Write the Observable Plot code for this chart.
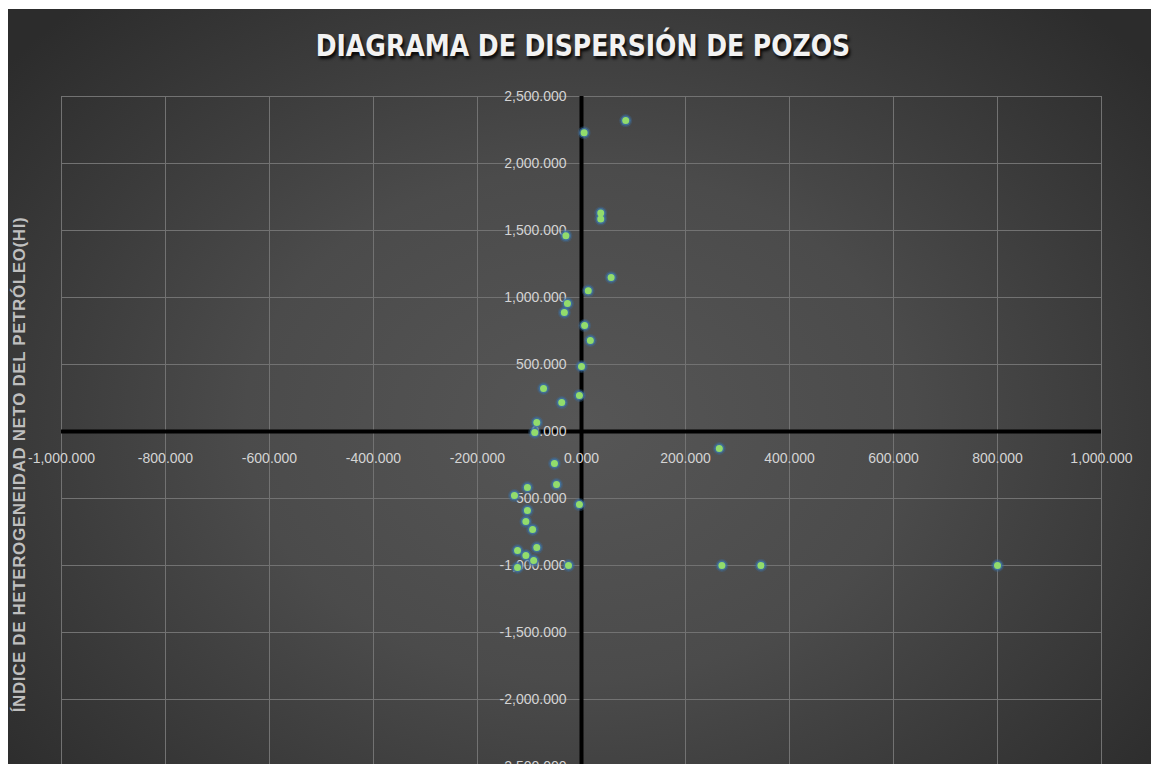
<!DOCTYPE html>
<html>
<head>
<meta charset="utf-8">
<script src="https://cdn.jsdelivr.net/npm/d3@7"></script>
<script src="https://cdn.jsdelivr.net/npm/@observablehq/plot@0.6"></script>
<style>
  body { margin: 0; background: #ffffff; }
  #chart {
    position: absolute; left: 8px; top: 9px; width: 1143px; height: 755px; overflow: hidden;
    background: radial-gradient(ellipse 65% 75% at 50% 55%, #565656 0%, #4b4b4b 45%, #3a3a3a 75%, #2c2c2c 100%);
  }
  #title {
    height: 78px; line-height: 72px; text-align: center; padding-left: 7px; box-sizing: border-box;
    font-family: "DejaVu Sans Condensed", "Liberation Sans", sans-serif;
    font-weight: bold; font-size: 31px; color: #f2f2f2;
    text-shadow: 2px 3px 3px rgba(0,0,0,0.85);
  }
  #title span { display: inline-block; transform: scaleX(0.9); }
</style>
</head>
<body>
<div id="chart">
  <div id="title"><span>DIAGRAMA DE DISPERSIÓN DE POZOS</span></div>
  <div id="plot"></div>
</div>
<script>
const xTicks = [-1000, -800, -600, -400, -200, 0, 200, 400, 600, 800, 1000];
const yTicks = [-2500, -2000, -1500, -1000, -500, 0, 500, 1000, 1500, 2000, 2500];
const yLabel = "ÍNDICE DE HETEROGENEIDAD NETO DEL PETRÓLEO(HI)";

const wellX = [85, 5, 37, 37, -30, 57, 13, -27, -33, 6, 17, 0, -73, -4, -38, -86, -90,
  -52, -48, -104, -129, -4, -104, -107, -94, -86, -123, -107, -92, -123, -25,
  265, 270, 345, 800];
const wellY = [2320, 2230, 1630, 1585, 1460, 1150, 1050, 955, 888, 791, 679, 485, 321, 269, 216, 67, -7,
  -239, -396, -418, -478, -545, -590, -672, -731, -866, -888, -925, -963, -1015, -1000,
  -127, -1000, -1000, -1000];

const wells = wellX.map((x, i) => ({x, y: wellY[i]}));

const locale = d3.formatLocale({decimal: ".", thousands: ",", grouping: [3], currency: ["$", ""], minus: "-"});
const fmt = locale.format(",.3f");

const tickFont = "Liberation Sans, Arial, sans-serif";

const chart = Plot.plot({
  width: 1143,
  height: 689,
  marginLeft: 53,
  marginRight: 50,
  marginTop: 9,
  marginBottom: 10,
  x: {domain: [-1000, 1000], axis: null},
  y: {domain: [-2500, 2500], axis: null},
  style: {background: "transparent", overflow: "visible"},
  marks: [
    Plot.ruleX(xTicks, {x: d => d, y1: -2500, y2: 2500, stroke: "#727272", strokeWidth: 1}),
    Plot.ruleY(yTicks, {y: d => d, x1: -1000, x2: 1000, stroke: "#727272", strokeWidth: 1}),
    Plot.ruleX([0], {x: d => d, y1: -2500, y2: 2500, stroke: "#000000", strokeWidth: 4}),
    Plot.ruleY([0], {y: d => d, x1: -1000, x2: 1000, stroke: "#000000", strokeWidth: 4}),
    Plot.text(yTicks, {x: 0, y: d => d, text: d => fmt(d), textAnchor: "end", dx: -15,
      fill: "#d4d4d4", fontSize: 14, fontFamily: tickFont}),
    Plot.text(xTicks, {x: d => d, y: 0, text: d => fmt(d), dy: 27,
      fill: "#d4d4d4", fontSize: 14, fontFamily: tickFont}),
    Plot.text([yLabel], {text: d => d, frameAnchor: "left", textAnchor: "middle", rotate: -90,
      dx: -42, dy: 33, fill: "#bfbfbf", fontSize: 17, fontWeight: "bold", fontFamily: tickFont}),
    Plot.dot(wells, {x: "x", y: "y", r: 6.5, fill: "#3b6c9c", fillOpacity: 0.35}),
    Plot.dot(wells, {x: "x", y: "y", r: 5, fill: "#3f74a6", fillOpacity: 0.8}),
    Plot.dot(wells, {x: "x", y: "y", r: 3.5, fill: "#92dc6c"})
  ]
});
d3.select(chart).selectAll("text").filter(function() { return this.textContent === yLabel; })
  .style("letter-spacing", "0.6px");
document.getElementById("plot").appendChild(chart);
</script>
</body>
</html>
